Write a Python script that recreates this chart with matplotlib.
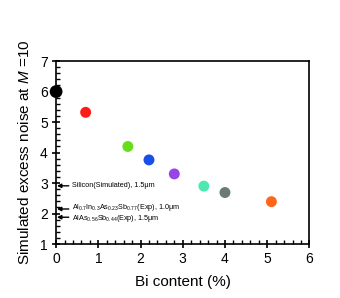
import matplotlib
matplotlib.use("Agg")
import matplotlib.pyplot as plt
from matplotlib.ticker import MultipleLocator

plt.rcParams['font.family'] = ['Liberation Sans', 'DejaVu Sans']
plt.rcParams['mathtext.fontset'] = 'custom'
plt.rcParams['mathtext.rm'] = 'Liberation Sans'
plt.rcParams['mathtext.it'] = 'Liberation Sans:italic'

bi = [0.0, 0.7, 1.7, 2.2, 2.8, 3.5, 4.0, 5.1]
noise = [6.0, 5.32, 4.2, 3.76, 3.3, 2.9, 2.69, 2.39]
colors = ['#000000', '#ff1a1a', '#66dd1a', '#1a4ee8', '#9944e6', '#4fe8b0', '#6a7a78', '#ff661a']
sizes = [85, 62, 62, 62, 62, 62, 62, 62]

ref_labels = ['Silicon(Simulated), 1.5μm',
              'Al$_{0.7}$In$_{0.3}$As$_{0.23}$Sb$_{0.77}$(Exp), 1.0μm',
              'AlAs$_{0.56}$Sb$_{0.44}$(Exp), 1.5μm']
ref_values = [2.91, 2.15, 1.88]
text_offsets = [0.0, 0.04, -0.04]

fig = plt.figure(figsize=(3.4, 2.98), dpi=100)
ax = fig.add_axes([0.165, 0.181, 0.745, 0.614])

ax.scatter(bi, noise, c=colors, s=sizes, edgecolors='none', zorder=3, clip_on=False)

for lab, v, off in zip(ref_labels, ref_values, text_offsets):
    ax.annotate('', xy=(0.02, v), xytext=(0.3, v),
                arrowprops=dict(arrowstyle='-|>', color='black', lw=1.0,
                                mutation_scale=6, shrinkA=0, shrinkB=0))
    ax.text(0.38, v + off, lab, fontsize=5.2, va='center', ha='left')

ax.set_xlim(0, 6)
ax.set_ylim(1, 7)
ax.xaxis.set_major_locator(MultipleLocator(1))
ax.xaxis.set_minor_locator(MultipleLocator(0.2))
ax.yaxis.set_major_locator(MultipleLocator(1))
ax.yaxis.set_minor_locator(MultipleLocator(0.2))
ax.tick_params(which='major', direction='inout', length=6, width=1.2, labelsize=10, pad=3)
ax.tick_params(which='minor', direction='in', length=3, width=1.0)
for s in ax.spines.values():
    s.set_linewidth(1.2)

ax.set_xlabel('Bi content (%)', fontsize=11, labelpad=6)
ax.set_ylabel('Simulated excess noise at $\\mathit{M}$ =10', fontsize=11, labelpad=6)

fig.savefig('out.png', dpi=100)
